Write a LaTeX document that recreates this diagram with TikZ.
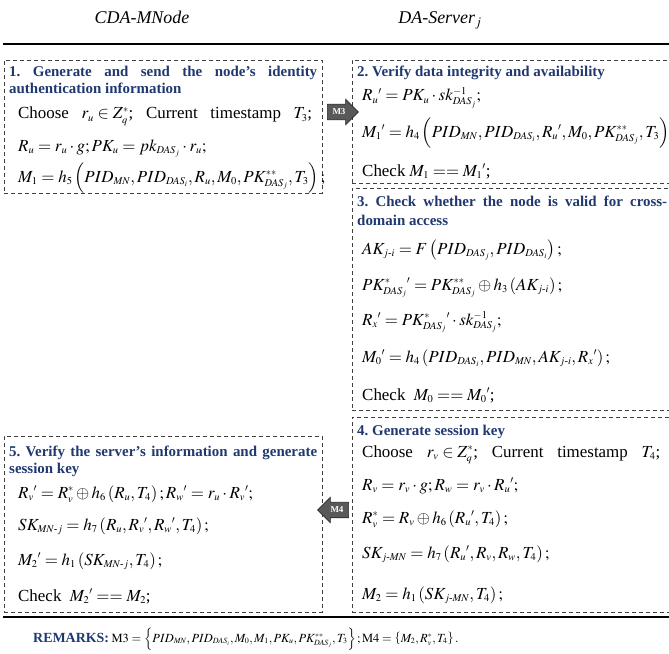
\documentclass[tikz,border=0pt]{standalone}
\usepackage{amsmath}
\usepackage{mathptmx}
\usepackage{fontspec}
\setmainfont{Liberation Serif}
\usetikzlibrary{shapes.arrows}
\DeclareMathSizes{17}{17}{10.5}{8}
\DeclareMathSizes{12.5}{12.5}{8}{6}
\definecolor{navy}{HTML}{1F3870}
\newcommand{\Das}{\mathit{DAS}}
\newcommand{\Mn}{\mathit{MN}}
\newcommand{\hy}{\text{-}}
\frenchspacing
\tikzset{
  box/.style={draw=black!75, dash pattern=on 4bp off 3bp, line width=0.8bp, rectangle, inner sep=0, anchor=north west},
  ttl/.style={anchor=base west, inner sep=0, text=navy, font=\bfseries\fontsize{15}{17}\selectfont},
  ln/.style={anchor=base west, inner sep=0, font=\fontsize{17}{20}\selectfont},
  hdr/.style={anchor=base, inner sep=0, font=\itshape\fontsize{18}{21}\selectfont},
  marrow/.style={single arrow, fill=black!65, draw=black!85, line width=0.6bp, text=white,
    font=\bfseries\fontsize{9}{10}\selectfont, single arrow head extend=5bp,
    minimum height=31bp, inner xsep=1bp, inner ysep=4.5bp},
  rule/.style={line width=1.2bp}
}
\begin{document}
\begin{tikzpicture}[x=1bp,y=-1bp]
\clip (0,0) rectangle (669,654);
\useasboundingbox (0,0) rectangle (669,654);
% headers
\node[hdr] (h1) at (142,24) {CDA-MNode};
\node[hdr] (h2) at (440,24) {DA-Server$_j$};
\coordinate (r1a) at (3,44); \coordinate (r1b) at (672,44);
\draw[rule] (r1a) -- (r1b);
% boxes
\node[box, minimum width=318bp, minimum height=133bp] (b1) at (4,60) {};
\node[box, minimum width=320bp, minimum height=123bp] (b2) at (352,60) {};
\node[box, minimum width=320bp, minimum height=222bp] (b3) at (352,188) {};
\node[box, minimum width=320bp, minimum height=195bp] (b4) at (352,417) {};
\node[box, minimum width=318bp, minimum height=176bp] (b5) at (4,436) {};
% box 1
\node[ttl] (t1a) at (9,77) {\makebox[308bp][s]{1. Generate and send the node's identity}};
\node[ttl] (t1b) at (9,94) {authentication information};
\node[ln] (l11) at (18,119) {\makebox[294bp][s]{Choose \mbox{$r_u \in Z_q^{*}$}; Current timestamp \mbox{$T_3$};}};
\node[ln] (l12) at (18,151) {$R_u = r_u \cdot g; PK_u = pk_{\Das_j}\cdot r_u;$};
\node[ln] (l13) at (18,182) {$M_1 = h_5\left(PID_{\Mn}, PID_{\Das_i}, R_u, M_0, PK^{**}_{\Das_j}, T_3\right);$};
% box 2
\node[ttl] (t2a) at (357,77) {2. Verify data integrity and availability};
\node[ln] (l21) at (362,101) {$R_u{}' = PK_u \cdot sk^{-1}_{\Das_j};$};
\node[ln] (l22) at (362,137) {$M_1{}' = h_4\left(PID_{\Mn}, PID_{\Das_i}, R_u{}', M_0, PK^{**}_{\Das_j}, T_3\right);$};
\node[ln] (l23) at (362,176) {Check $M_1 == M_1{}'$;};
% box 3
\node[ttl] (t3a) at (357,206) {\makebox[310bp][s]{3. Check whether the node is valid for cross-}};
\node[ttl] (t3b) at (357,225) {domain access};
\node[ln] (l31) at (362,254) {$AK_{j\hy i} = F\left(PID_{\Das_j}, PID_{\Das_i}\right);$};
\node[ln] (l32) at (362,290) {${PK^{*}_{\Das_j}}' = PK^{**}_{\Das_j} \oplus h_3\left(AK_{j\hy i}\right);$};
\node[ln] (l33) at (362,325) {$R_x{}' = {PK^{*}_{\Das_j}}' \cdot sk^{-1}_{\Das_j};$};
\node[ln] (l34) at (362,362) {$M_0{}' = h_4\left(PID_{\Das_i}, PID_{\Mn}, AK_{j\hy i}, R_x{}'\right);$};
\node[ln] (l35) at (362,400) {Check\ \ $M_0 == M_0{}'$;};
% box 4
\node[ttl] (t4a) at (357,435) {4. Generate session key};
\node[ln] (l41) at (362,457) {\makebox[298bp][s]{Choose \mbox{$r_v \in Z_q^{*}$}; Current timestamp \mbox{$T_4$};}};
\node[ln] (l42) at (362,490) {$R_v = r_v\cdot g; R_w = r_v \cdot R_u{}';$};
\node[ln] (l43) at (362,523) {$R_v^{*} = R_v \oplus h_6\left(R_u{}', T_4\right);$};
\node[ln] (l44) at (362,558) {$SK_{j\hy\Mn} = h_7\left(R_u{}', R_v, R_w, T_4\right);$};
\node[ln] (l45) at (362,599) {$M_2 = h_1\left(SK_{j\hy\Mn}, T_4\right);$};
% box 5
\node[ttl] (t5a) at (9,456) {\makebox[308bp][s]{5. Verify the server's information and generate}};
\node[ttl] (t5b) at (9,473) {session key};
\node[ln] (l51) at (18,498) {$R_v{}' = R_v^{*} \oplus h_6\left(R_u, T_4\right); R_w{}' = r_u\cdot R_v{}';$};
\node[ln] (l52) at (18,530) {$SK_{\Mn\hy j} = h_7\left(R_u, R_v{}', R_w{}', T_4\right);$};
\node[ln] (l53) at (18,565) {$M_2{}' = h_1\left(SK_{\Mn\hy j}, T_4\right);$};
\node[ln] (l54) at (18,601) {Check\ \ $M_2{}' == M_2$;};
% message arrows
\node[marrow] (m3) at (339,112) {M3};
\node[marrow, shape border rotate=180] (m4) at (337,510) {M4};
% bottom rule and remarks
\coordinate (r2a) at (3,617); \coordinate (r2b) at (672,617);
\draw[line width=1.5bp] (r2a) -- (r2b);
\node[anchor=base west, inner sep=0] (rem) at (33,642) {{\color{navy}\bfseries\fontsize{14}{17}\selectfont REMARKS:}\ {\fontsize{12.5}{14}\selectfont $\mathrm{M3} = \left\{PID_{\Mn}, PID_{\Das_i}, M_0, M_1, PK_u, PK^{**}_{\Das_j}, T_3\right\}; \mathrm{M4} = \left\{M_2, R_v^{*}, T_4\right\}.$}};
\end{tikzpicture}
\end{document}
